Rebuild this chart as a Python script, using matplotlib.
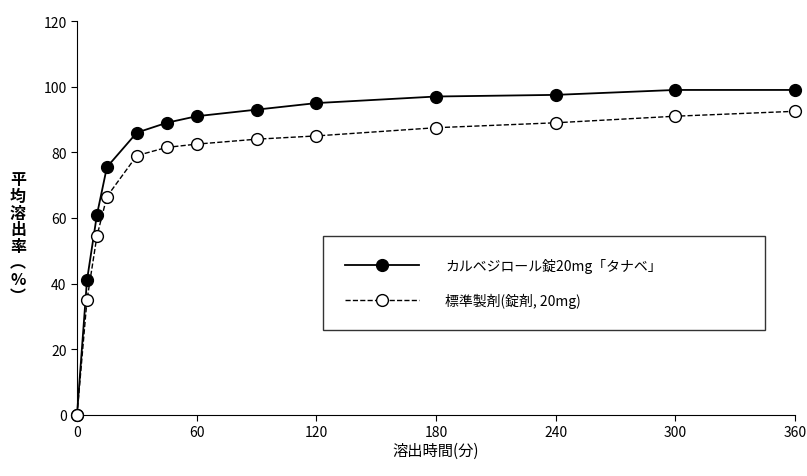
import matplotlib.pyplot as plt

plt.rcParams['font.family'] = ['Noto Sans CJK JP', 'DejaVu Sans']

time_min = [0, 5, 10, 15, 30, 45, 60, 90, 120, 180, 240, 300, 360]
test_pct = [0, 41, 61, 75.5, 86, 89, 91, 93, 95, 97, 97.5, 99, 99]
ref_pct = [0, 35, 54.5, 66.5, 79, 81.5, 82.5, 84, 85, 87.5, 89, 91, 92.5]
x_ticks = [0, 60, 120, 180, 240, 300, 360]
y_ticks = [0, 20, 40, 60, 80, 100, 120]

fig = plt.figure(figsize=(8.07, 4.77), dpi=100)
ax = fig.add_axes([77 / 807, 1 - 416 / 477, 718 / 807, 394 / 477])
ax.plot(time_min, test_pct, '-o', color='black', lw=1.3, ms=8.5,
        mfc='black', label='カルベジロール錠20mg「タナベ」', clip_on=False, zorder=3)
ax.plot(time_min, ref_pct, '--o', color='black', lw=1.0, ms=8.5,
        mfc='white', label='標準製剤(錠剤, 20mg)', clip_on=False, zorder=3)
ax.set_xlim(0, 360)
ax.set_ylim(0, 120)
ax.set_xticks(x_ticks)
ax.set_yticks(y_ticks)
for s in ['top', 'right']:
    ax.spines[s].set_visible(False)
ax.tick_params(labelsize=10, length=4)
ax.set_xlabel('溶出時間(分)', fontsize=11, labelpad=2)
fig.text(18 / 807, 0.5, '平\n均\n溶\n出\n率\n︵\n%\n︶', fontsize=11.5,
         ha='center', va='center', linespacing=1.05, fontweight='bold')
leg = ax.legend(loc='upper left',
                bbox_to_anchor=((323 - 77) / 718, (416 - 331) / 394, 442 / 718, 94 / 394),
                mode='expand', fontsize=10, frameon=True, fancybox=False, edgecolor='black',
                borderpad=1.6, labelspacing=1.4, handlelength=5.3, handletextpad=1.9,
                borderaxespad=0)
leg.get_frame().set_linewidth(1.0)
fig.savefig('out.png', dpi=100)
